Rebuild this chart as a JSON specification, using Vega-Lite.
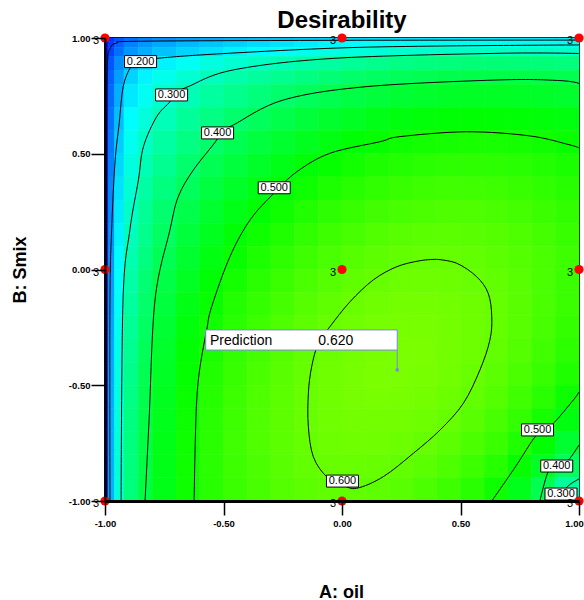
{
"$schema": "https://vega.github.io/schema/vega-lite/v6.json",
"width": 474, "height": 463,
"autosize": {"type": "none"},
"padding": {"left": 105, "top": 38, "right": 5, "bottom": 99},
"background": "white",
"title": {"text": "Desirability", "font": "Liberation Sans", "fontSize": 24, "fontWeight": "bold", "color": "black", "anchor": "middle", "frame": "group", "baseline": "alphabetic", "offset": 4, "dy": 23},
"config": {"view": {"stroke": "black", "strokeWidth": 2}, "font": "Liberation Sans"},
"datasets": {
"cols": [{"c":1,"x0":-1,"x1":-0.985},{"c":2,"x0":-0.985,"x1":-0.96},{"c":3,"x0":-0.96,"x1":-0.92},{"c":4,"x0":-0.92,"x1":-0.86},{"c":5,"x0":-0.86,"x1":-0.8},{"c":6,"x0":-0.8,"x1":-0.7},{"c":7,"x0":-0.7,"x1":-0.6},{"c":8,"x0":-0.6,"x1":-0.5},{"c":9,"x0":-0.5,"x1":-0.4},{"c":10,"x0":-0.4,"x1":-0.3},{"c":11,"x0":-0.3,"x1":-0.2},{"c":12,"x0":-0.2,"x1":-0.1},{"c":13,"x0":-0.1,"x1":0},{"c":14,"x0":0,"x1":0.1},{"c":15,"x0":0.1,"x1":0.2},{"c":16,"x0":0.2,"x1":0.3},{"c":17,"x0":0.3,"x1":0.4},{"c":18,"x0":0.4,"x1":0.5},{"c":19,"x0":0.5,"x1":0.6},{"c":20,"x0":0.6,"x1":0.7},{"c":21,"x0":0.7,"x1":0.8},{"c":22,"x0":0.8,"x1":0.9},{"c":23,"x0":0.9,"x1":1}],
"rows": [{"r":1,"y0":0.985,"y1":1},{"r":2,"y0":0.96,"y1":0.985},{"r":3,"y0":0.92,"y1":0.96},{"r":4,"y0":0.86,"y1":0.92},{"r":5,"y0":0.8,"y1":0.86},{"r":6,"y0":0.7,"y1":0.8},{"r":7,"y0":0.6,"y1":0.7},{"r":8,"y0":0.5,"y1":0.6},{"r":9,"y0":0.4,"y1":0.5},{"r":10,"y0":0.3,"y1":0.4},{"r":11,"y0":0.2,"y1":0.3},{"r":12,"y0":0.1,"y1":0.2},{"r":13,"y0":0,"y1":0.1},{"r":14,"y0":-0.1,"y1":0},{"r":15,"y0":-0.2,"y1":-0.1},{"r":16,"y0":-0.3,"y1":-0.2},{"r":17,"y0":-0.4,"y1":-0.3},{"r":18,"y0":-0.5,"y1":-0.4},{"r":19,"y0":-0.6,"y1":-0.5},{"r":20,"y0":-0.7,"y1":-0.6},{"r":21,"y0":-0.8,"y1":-0.7},{"r":22,"y0":-0.9,"y1":-0.8},{"r":23,"y0":-1,"y1":-0.9}],
"cells": [
{"c":1,"r":1,"d":0.017},{"c":2,"r":1,"d":0.048},{"c":3,"r":1,"d":0.081},{"c":4,"r":1,"d":0.108},{"c":5,"r":1,"d":0.125},{"c":6,"r":1,"d":0.14},{"c":7,"r":1,"d":0.153},{"c":8,"r":1,"d":0.164},{"c":9,"r":1,"d":0.174},{"c":10,"r":1,"d":0.182},{"c":11,"r":1,"d":0.189},{"c":12,"r":1,"d":0.197},{"c":13,"r":1,"d":0.204},{"c":14,"r":1,"d":0.209},{"c":15,"r":1,"d":0.215},{"c":16,"r":1,"d":0.219},{"c":17,"r":1,"d":0.222},{"c":18,"r":1,"d":0.226},{"c":19,"r":1,"d":0.227},{"c":20,"r":1,"d":0.228},{"c":21,"r":1,"d":0.228},{"c":22,"r":1,"d":0.228},{"c":23,"r":1,"d":0.226},
{"c":1,"r":2,"d":0.02},{"c":2,"r":2,"d":0.057},{"c":3,"r":2,"d":0.096},{"c":4,"r":2,"d":0.127},{"c":5,"r":2,"d":0.148},{"c":6,"r":2,"d":0.165},{"c":7,"r":2,"d":0.181},{"c":8,"r":2,"d":0.194},{"c":9,"r":2,"d":0.205},{"c":10,"r":2,"d":0.215},{"c":11,"r":2,"d":0.224},{"c":12,"r":2,"d":0.233},{"c":13,"r":2,"d":0.241},{"c":14,"r":2,"d":0.247},{"c":15,"r":2,"d":0.254},{"c":16,"r":2,"d":0.259},{"c":17,"r":2,"d":0.263},{"c":18,"r":2,"d":0.267},{"c":19,"r":2,"d":0.268},{"c":20,"r":2,"d":0.269},{"c":21,"r":2,"d":0.269},{"c":22,"r":2,"d":0.269},{"c":23,"r":2,"d":0.267},
{"c":1,"r":3,"d":0.022},{"c":2,"r":3,"d":0.066},{"c":3,"r":3,"d":0.111},{"c":4,"r":3,"d":0.147},{"c":5,"r":3,"d":0.17},{"c":6,"r":3,"d":0.19},{"c":7,"r":3,"d":0.209},{"c":8,"r":3,"d":0.223},{"c":9,"r":3,"d":0.236},{"c":10,"r":3,"d":0.247},{"c":11,"r":3,"d":0.257},{"c":12,"r":3,"d":0.267},{"c":13,"r":3,"d":0.276},{"c":14,"r":3,"d":0.284},{"c":15,"r":3,"d":0.29},{"c":16,"r":3,"d":0.296},{"c":17,"r":3,"d":0.301},{"c":18,"r":3,"d":0.305},{"c":19,"r":3,"d":0.308},{"c":20,"r":3,"d":0.309},{"c":21,"r":3,"d":0.309},{"c":22,"r":3,"d":0.308},{"c":23,"r":3,"d":0.305},
{"c":1,"r":4,"d":0.028},{"c":2,"r":4,"d":0.083},{"c":3,"r":4,"d":0.139},{"c":4,"r":4,"d":0.184},{"c":5,"r":4,"d":0.213},{"c":6,"r":4,"d":0.238},{"c":7,"r":4,"d":0.261},{"c":8,"r":4,"d":0.279},{"c":9,"r":4,"d":0.295},{"c":10,"r":4,"d":0.309},{"c":11,"r":4,"d":0.322},{"c":12,"r":4,"d":0.334},{"c":13,"r":4,"d":0.344},{"c":14,"r":4,"d":0.354},{"c":15,"r":4,"d":0.362},{"c":16,"r":4,"d":0.37},{"c":17,"r":4,"d":0.376},{"c":18,"r":4,"d":0.38},{"c":19,"r":4,"d":0.383},{"c":20,"r":4,"d":0.384},{"c":21,"r":4,"d":0.384},{"c":22,"r":4,"d":0.382},{"c":23,"r":4,"d":0.378},
{"c":1,"r":5,"d":0.031},{"c":2,"r":5,"d":0.094},{"c":3,"r":5,"d":0.156},{"c":4,"r":5,"d":0.207},{"c":5,"r":5,"d":0.24},{"c":6,"r":5,"d":0.268},{"c":7,"r":5,"d":0.294},{"c":8,"r":5,"d":0.314},{"c":9,"r":5,"d":0.331},{"c":10,"r":5,"d":0.347},{"c":11,"r":5,"d":0.361},{"c":12,"r":5,"d":0.375},{"c":13,"r":5,"d":0.386},{"c":14,"r":5,"d":0.397},{"c":15,"r":5,"d":0.406},{"c":16,"r":5,"d":0.414},{"c":17,"r":5,"d":0.42},{"c":18,"r":5,"d":0.425},{"c":19,"r":5,"d":0.427},{"c":20,"r":5,"d":0.429},{"c":21,"r":5,"d":0.428},{"c":22,"r":5,"d":0.426},{"c":23,"r":5,"d":0.421},
{"c":1,"r":6,"d":0.034},{"c":2,"r":6,"d":0.103},{"c":3,"r":6,"d":0.172},{"c":4,"r":6,"d":0.228},{"c":5,"r":6,"d":0.263},{"c":6,"r":6,"d":0.294},{"c":7,"r":6,"d":0.322},{"c":8,"r":6,"d":0.344},{"c":9,"r":6,"d":0.363},{"c":10,"r":6,"d":0.38},{"c":11,"r":6,"d":0.395},{"c":12,"r":6,"d":0.41},{"c":13,"r":6,"d":0.422},{"c":14,"r":6,"d":0.433},{"c":15,"r":6,"d":0.443},{"c":16,"r":6,"d":0.451},{"c":17,"r":6,"d":0.457},{"c":18,"r":6,"d":0.462},{"c":19,"r":6,"d":0.465},{"c":20,"r":6,"d":0.465},{"c":21,"r":6,"d":0.464},{"c":22,"r":6,"d":0.461},{"c":23,"r":6,"d":0.456},
{"c":1,"r":7,"d":0.037},{"c":2,"r":7,"d":0.112},{"c":3,"r":7,"d":0.187},{"c":4,"r":7,"d":0.248},{"c":5,"r":7,"d":0.286},{"c":6,"r":7,"d":0.32},{"c":7,"r":7,"d":0.35},{"c":8,"r":7,"d":0.373},{"c":9,"r":7,"d":0.394},{"c":10,"r":7,"d":0.412},{"c":11,"r":7,"d":0.427},{"c":12,"r":7,"d":0.443},{"c":13,"r":7,"d":0.456},{"c":14,"r":7,"d":0.467},{"c":15,"r":7,"d":0.477},{"c":16,"r":7,"d":0.485},{"c":17,"r":7,"d":0.492},{"c":18,"r":7,"d":0.496},{"c":19,"r":7,"d":0.498},{"c":20,"r":7,"d":0.498},{"c":21,"r":7,"d":0.496},{"c":22,"r":7,"d":0.492},{"c":23,"r":7,"d":0.486},
{"c":1,"r":8,"d":0.04},{"c":2,"r":8,"d":0.12},{"c":3,"r":8,"d":0.2},{"c":4,"r":8,"d":0.264},{"c":5,"r":8,"d":0.305},{"c":6,"r":8,"d":0.341},{"c":7,"r":8,"d":0.372},{"c":8,"r":8,"d":0.397},{"c":9,"r":8,"d":0.419},{"c":10,"r":8,"d":0.438},{"c":11,"r":8,"d":0.454},{"c":12,"r":8,"d":0.47},{"c":13,"r":8,"d":0.483},{"c":14,"r":8,"d":0.495},{"c":15,"r":8,"d":0.505},{"c":16,"r":8,"d":0.513},{"c":17,"r":8,"d":0.519},{"c":18,"r":8,"d":0.522},{"c":19,"r":8,"d":0.524},{"c":20,"r":8,"d":0.523},{"c":21,"r":8,"d":0.52},{"c":22,"r":8,"d":0.515},{"c":23,"r":8,"d":0.508},
{"c":1,"r":9,"d":0.042},{"c":2,"r":9,"d":0.126},{"c":3,"r":9,"d":0.211},{"c":4,"r":9,"d":0.279},{"c":5,"r":9,"d":0.322},{"c":6,"r":9,"d":0.359},{"c":7,"r":9,"d":0.393},{"c":8,"r":9,"d":0.419},{"c":9,"r":9,"d":0.441},{"c":10,"r":9,"d":0.46},{"c":11,"r":9,"d":0.477},{"c":12,"r":9,"d":0.493},{"c":13,"r":9,"d":0.506},{"c":14,"r":9,"d":0.518},{"c":15,"r":9,"d":0.528},{"c":16,"r":9,"d":0.535},{"c":17,"r":9,"d":0.541},{"c":18,"r":9,"d":0.544},{"c":19,"r":9,"d":0.545},{"c":20,"r":9,"d":0.543},{"c":21,"r":9,"d":0.539},{"c":22,"r":9,"d":0.533},{"c":23,"r":9,"d":0.525},
{"c":1,"r":10,"d":0.044},{"c":2,"r":10,"d":0.133},{"c":3,"r":10,"d":0.221},{"c":4,"r":10,"d":0.292},{"c":5,"r":10,"d":0.338},{"c":6,"r":10,"d":0.376},{"c":7,"r":10,"d":0.411},{"c":8,"r":10,"d":0.437},{"c":9,"r":10,"d":0.46},{"c":10,"r":10,"d":0.48},{"c":11,"r":10,"d":0.497},{"c":12,"r":10,"d":0.513},{"c":13,"r":10,"d":0.527},{"c":14,"r":10,"d":0.538},{"c":15,"r":10,"d":0.547},{"c":16,"r":10,"d":0.555},{"c":17,"r":10,"d":0.56},{"c":18,"r":10,"d":0.562},{"c":19,"r":10,"d":0.562},{"c":20,"r":10,"d":0.56},{"c":21,"r":10,"d":0.555},{"c":22,"r":10,"d":0.547},{"c":23,"r":10,"d":0.538},
{"c":1,"r":11,"d":0.046},{"c":2,"r":11,"d":0.138},{"c":3,"r":11,"d":0.23},{"c":4,"r":11,"d":0.305},{"c":5,"r":11,"d":0.352},{"c":6,"r":11,"d":0.392},{"c":7,"r":11,"d":0.427},{"c":8,"r":11,"d":0.454},{"c":9,"r":11,"d":0.478},{"c":10,"r":11,"d":0.498},{"c":11,"r":11,"d":0.515},{"c":12,"r":11,"d":0.531},{"c":13,"r":11,"d":0.544},{"c":14,"r":11,"d":0.555},{"c":15,"r":11,"d":0.564},{"c":16,"r":11,"d":0.571},{"c":17,"r":11,"d":0.575},{"c":18,"r":11,"d":0.577},{"c":19,"r":11,"d":0.576},{"c":20,"r":11,"d":0.573},{"c":21,"r":11,"d":0.567},{"c":22,"r":11,"d":0.558},{"c":23,"r":11,"d":0.548},
{"c":1,"r":12,"d":0.048},{"c":2,"r":12,"d":0.143},{"c":3,"r":12,"d":0.239},{"c":4,"r":12,"d":0.316},{"c":5,"r":12,"d":0.364},{"c":6,"r":12,"d":0.406},{"c":7,"r":12,"d":0.442},{"c":8,"r":12,"d":0.47},{"c":9,"r":12,"d":0.493},{"c":10,"r":12,"d":0.514},{"c":11,"r":12,"d":0.531},{"c":12,"r":12,"d":0.547},{"c":13,"r":12,"d":0.56},{"c":14,"r":12,"d":0.571},{"c":15,"r":12,"d":0.579},{"c":16,"r":12,"d":0.585},{"c":17,"r":12,"d":0.588},{"c":18,"r":12,"d":0.589},{"c":19,"r":12,"d":0.587},{"c":20,"r":12,"d":0.583},{"c":21,"r":12,"d":0.576},{"c":22,"r":12,"d":0.567},{"c":23,"r":12,"d":0.555},
{"c":1,"r":13,"d":0.049},{"c":2,"r":13,"d":0.148},{"c":3,"r":13,"d":0.247},{"c":4,"r":13,"d":0.326},{"c":5,"r":13,"d":0.376},{"c":6,"r":13,"d":0.418},{"c":7,"r":13,"d":0.455},{"c":8,"r":13,"d":0.484},{"c":9,"r":13,"d":0.507},{"c":10,"r":13,"d":0.527},{"c":11,"r":13,"d":0.545},{"c":12,"r":13,"d":0.56},{"c":13,"r":13,"d":0.573},{"c":14,"r":13,"d":0.583},{"c":15,"r":13,"d":0.591},{"c":16,"r":13,"d":0.596},{"c":17,"r":13,"d":0.599},{"c":18,"r":13,"d":0.599},{"c":19,"r":13,"d":0.596},{"c":20,"r":13,"d":0.59},{"c":21,"r":13,"d":0.582},{"c":22,"r":13,"d":0.572},{"c":23,"r":13,"d":0.56},
{"c":1,"r":14,"d":0.051},{"c":2,"r":14,"d":0.153},{"c":3,"r":14,"d":0.254},{"c":4,"r":14,"d":0.336},{"c":5,"r":14,"d":0.387},{"c":6,"r":14,"d":0.43},{"c":7,"r":14,"d":0.467},{"c":8,"r":14,"d":0.496},{"c":9,"r":14,"d":0.52},{"c":10,"r":14,"d":0.54},{"c":11,"r":14,"d":0.556},{"c":12,"r":14,"d":0.572},{"c":13,"r":14,"d":0.584},{"c":14,"r":14,"d":0.593},{"c":15,"r":14,"d":0.6},{"c":16,"r":14,"d":0.605},{"c":17,"r":14,"d":0.607},{"c":18,"r":14,"d":0.606},{"c":19,"r":14,"d":0.602},{"c":20,"r":14,"d":0.595},{"c":21,"r":14,"d":0.586},{"c":22,"r":14,"d":0.572},{"c":23,"r":14,"d":0.557},
{"c":1,"r":15,"d":0.052},{"c":2,"r":15,"d":0.157},{"c":3,"r":15,"d":0.261},{"c":4,"r":15,"d":0.345},{"c":5,"r":15,"d":0.397},{"c":6,"r":15,"d":0.441},{"c":7,"r":15,"d":0.479},{"c":8,"r":15,"d":0.508},{"c":9,"r":15,"d":0.532},{"c":10,"r":15,"d":0.551},{"c":11,"r":15,"d":0.568},{"c":12,"r":15,"d":0.583},{"c":13,"r":15,"d":0.594},{"c":14,"r":15,"d":0.603},{"c":15,"r":15,"d":0.609},{"c":16,"r":15,"d":0.613},{"c":17,"r":15,"d":0.614},{"c":18,"r":15,"d":0.612},{"c":19,"r":15,"d":0.607},{"c":20,"r":15,"d":0.6},{"c":21,"r":15,"d":0.587},{"c":22,"r":15,"d":0.573},{"c":23,"r":15,"d":0.556},
{"c":1,"r":16,"d":0.054},{"c":2,"r":16,"d":0.161},{"c":3,"r":16,"d":0.267},{"c":4,"r":16,"d":0.353},{"c":5,"r":16,"d":0.406},{"c":6,"r":16,"d":0.45},{"c":7,"r":16,"d":0.489},{"c":8,"r":16,"d":0.517},{"c":9,"r":16,"d":0.541},{"c":10,"r":16,"d":0.56},{"c":11,"r":16,"d":0.576},{"c":12,"r":16,"d":0.591},{"c":13,"r":16,"d":0.601},{"c":14,"r":16,"d":0.609},{"c":15,"r":16,"d":0.615},{"c":16,"r":16,"d":0.617},{"c":17,"r":16,"d":0.617},{"c":18,"r":16,"d":0.614},{"c":19,"r":16,"d":0.607},{"c":20,"r":16,"d":0.598},{"c":21,"r":16,"d":0.585},{"c":22,"r":16,"d":0.57},{"c":23,"r":16,"d":0.55},
{"c":1,"r":17,"d":0.055},{"c":2,"r":17,"d":0.164},{"c":3,"r":17,"d":0.273},{"c":4,"r":17,"d":0.359},{"c":5,"r":17,"d":0.413},{"c":6,"r":17,"d":0.458},{"c":7,"r":17,"d":0.497},{"c":8,"r":17,"d":0.525},{"c":9,"r":17,"d":0.549},{"c":10,"r":17,"d":0.567},{"c":11,"r":17,"d":0.583},{"c":12,"r":17,"d":0.597},{"c":13,"r":17,"d":0.606},{"c":14,"r":17,"d":0.613},{"c":15,"r":17,"d":0.618},{"c":16,"r":17,"d":0.62},{"c":17,"r":17,"d":0.619},{"c":18,"r":17,"d":0.613},{"c":19,"r":17,"d":0.606},{"c":20,"r":17,"d":0.595},{"c":21,"r":17,"d":0.581},{"c":22,"r":17,"d":0.563},{"c":23,"r":17,"d":0.542},
{"c":1,"r":18,"d":0.056},{"c":2,"r":18,"d":0.167},{"c":3,"r":18,"d":0.277},{"c":4,"r":18,"d":0.365},{"c":5,"r":18,"d":0.42},{"c":6,"r":18,"d":0.465},{"c":7,"r":18,"d":0.503},{"c":8,"r":18,"d":0.532},{"c":9,"r":18,"d":0.554},{"c":10,"r":18,"d":0.573},{"c":11,"r":18,"d":0.587},{"c":12,"r":18,"d":0.6},{"c":13,"r":18,"d":0.609},{"c":14,"r":18,"d":0.616},{"c":15,"r":18,"d":0.619},{"c":16,"r":18,"d":0.62},{"c":17,"r":18,"d":0.617},{"c":18,"r":18,"d":0.612},{"c":19,"r":18,"d":0.602},{"c":20,"r":18,"d":0.59},{"c":21,"r":18,"d":0.574},{"c":22,"r":18,"d":0.554},{"c":23,"r":18,"d":0.529},
{"c":1,"r":19,"d":0.056},{"c":2,"r":19,"d":0.169},{"c":3,"r":19,"d":0.281},{"c":4,"r":19,"d":0.37},{"c":5,"r":19,"d":0.425},{"c":6,"r":19,"d":0.47},{"c":7,"r":19,"d":0.509},{"c":8,"r":19,"d":0.537},{"c":9,"r":19,"d":0.559},{"c":10,"r":19,"d":0.576},{"c":11,"r":19,"d":0.59},{"c":12,"r":19,"d":0.602},{"c":13,"r":19,"d":0.61},{"c":14,"r":19,"d":0.616},{"c":15,"r":19,"d":0.618},{"c":16,"r":19,"d":0.617},{"c":17,"r":19,"d":0.613},{"c":18,"r":19,"d":0.606},{"c":19,"r":19,"d":0.596},{"c":20,"r":19,"d":0.582},{"c":21,"r":19,"d":0.563},{"c":22,"r":19,"d":0.54},{"c":23,"r":19,"d":0.511},
{"c":1,"r":20,"d":0.057},{"c":2,"r":20,"d":0.171},{"c":3,"r":20,"d":0.284},{"c":4,"r":20,"d":0.374},{"c":5,"r":20,"d":0.429},{"c":6,"r":20,"d":0.474},{"c":7,"r":20,"d":0.512},{"c":8,"r":20,"d":0.54},{"c":9,"r":20,"d":0.561},{"c":10,"r":20,"d":0.578},{"c":11,"r":20,"d":0.591},{"c":12,"r":20,"d":0.602},{"c":13,"r":20,"d":0.609},{"c":14,"r":20,"d":0.614},{"c":15,"r":20,"d":0.614},{"c":16,"r":20,"d":0.612},{"c":17,"r":20,"d":0.607},{"c":18,"r":20,"d":0.599},{"c":19,"r":20,"d":0.587},{"c":20,"r":20,"d":0.57},{"c":21,"r":20,"d":0.549},{"c":22,"r":20,"d":0.522},{"c":23,"r":20,"d":0.486},
{"c":1,"r":21,"d":0.058},{"c":2,"r":21,"d":0.172},{"c":3,"r":21,"d":0.286},{"c":4,"r":21,"d":0.377},{"c":5,"r":21,"d":0.432},{"c":6,"r":21,"d":0.477},{"c":7,"r":21,"d":0.514},{"c":8,"r":21,"d":0.541},{"c":9,"r":21,"d":0.562},{"c":10,"r":21,"d":0.578},{"c":11,"r":21,"d":0.59},{"c":12,"r":21,"d":0.6},{"c":13,"r":21,"d":0.606},{"c":14,"r":21,"d":0.609},{"c":15,"r":21,"d":0.609},{"c":16,"r":21,"d":0.605},{"c":17,"r":21,"d":0.599},{"c":18,"r":21,"d":0.589},{"c":19,"r":21,"d":0.575},{"c":20,"r":21,"d":0.556},{"c":21,"r":21,"d":0.531},{"c":22,"r":21,"d":0.497},{"c":23,"r":21,"d":0.453},
{"c":1,"r":22,"d":0.058},{"c":2,"r":22,"d":0.173},{"c":3,"r":22,"d":0.288},{"c":4,"r":22,"d":0.378},{"c":5,"r":22,"d":0.433},{"c":6,"r":22,"d":0.478},{"c":7,"r":22,"d":0.515},{"c":8,"r":22,"d":0.541},{"c":9,"r":22,"d":0.56},{"c":10,"r":22,"d":0.575},{"c":11,"r":22,"d":0.586},{"c":12,"r":22,"d":0.596},{"c":13,"r":22,"d":0.601},{"c":14,"r":22,"d":0.602},{"c":15,"r":22,"d":0.601},{"c":16,"r":22,"d":0.596},{"c":17,"r":22,"d":0.588},{"c":18,"r":22,"d":0.576},{"c":19,"r":22,"d":0.559},{"c":20,"r":22,"d":0.537},{"c":21,"r":22,"d":0.506},{"c":22,"r":22,"d":0.465},{"c":23,"r":22,"d":0.408},
{"c":1,"r":23,"d":0.058},{"c":2,"r":23,"d":0.174},{"c":3,"r":23,"d":0.288},{"c":4,"r":23,"d":0.379},{"c":5,"r":23,"d":0.434},{"c":6,"r":23,"d":0.478},{"c":7,"r":23,"d":0.514},{"c":8,"r":23,"d":0.539},{"c":9,"r":23,"d":0.557},{"c":10,"r":23,"d":0.571},{"c":11,"r":23,"d":0.582},{"c":12,"r":23,"d":0.59},{"c":13,"r":23,"d":0.593},{"c":14,"r":23,"d":0.593},{"c":15,"r":23,"d":0.591},{"c":16,"r":23,"d":0.585},{"c":17,"r":23,"d":0.575},{"c":18,"r":23,"d":0.561},{"c":19,"r":23,"d":0.541},{"c":20,"r":23,"d":0.513},{"c":21,"r":23,"d":0.475},{"c":22,"r":23,"d":0.422},{"c":23,"r":23,"d":0.347}
],
"contours": [
{"s":"a","o":1,"x":-0.993,"y":-1},{"s":"a","o":2,"x":-0.993,"y":0.5},{"s":"a","o":3,"x":-0.99,"y":0.88},{"s":"a","o":4,"x":-0.978,"y":0.955},{"s":"a","o":5,"x":-0.95,"y":0.978},{"s":"a","o":6,"x":-0.85,"y":0.986},{"s":"a","o":7,"x":0,"y":0.99},{"s":"a","o":8,"x":1,"y":0.991},
{"s":"b","o":1,"x":-0.979,"y":-1},{"s":"b","o":2,"x":-0.979,"y":-0.132},{"s":"b","o":3,"x":-0.972,"y":0.171},{"s":"b","o":4,"x":-0.958,"y":0.46},{"s":"b","o":5,"x":-0.94,"y":0.633},{"s":"b","o":6,"x":-0.923,"y":0.79},{"s":"b","o":7,"x":-0.89,"y":0.876},{"s":"b","o":8,"x":-0.85,"y":0.898},{"s":"b","o":9,"x":-0.782,"y":0.912},{"s":"b","o":10,"x":-0.529,"y":0.931},{"s":"b","o":11,"x":-0.038,"y":0.956},{"s":"b","o":12,"x":0.384,"y":0.965},{"s":"b","o":13,"x":1,"y":0.97},
{"s":"c","o":1,"x":-0.932,"y":-1},{"s":"c","o":2,"x":-0.924,"y":-0.132},{"s":"c","o":3,"x":-0.895,"y":0.171},{"s":"c","o":4,"x":-0.859,"y":0.387},{"s":"c","o":5,"x":-0.838,"y":0.53},{"s":"c","o":6,"x":-0.782,"y":0.66},{"s":"c","o":7,"x":-0.726,"y":0.725},{"s":"c","o":8,"x":-0.719,"y":0.754},{"s":"c","o":9,"x":-0.649,"y":0.79},{"s":"c","o":10,"x":-0.459,"y":0.862},{"s":"c","o":11,"x":-0.037,"y":0.912},{"s":"c","o":12,"x":0.667,"y":0.934},{"s":"c","o":13,"x":1,"y":0.933},
{"s":"d","o":1,"x":-0.831,"y":-1},{"s":"d","o":2,"x":-0.814,"y":-0.65},{"s":"d","o":3,"x":-0.789,"y":-0.132},{"s":"d","o":4,"x":-0.726,"y":0.171},{"s":"d","o":5,"x":-0.691,"y":0.314},{"s":"d","o":6,"x":-0.627,"y":0.43},{"s":"d","o":7,"x":-0.529,"y":0.559},{"s":"d","o":8,"x":-0.525,"y":0.59},{"s":"d","o":9,"x":-0.459,"y":0.624},{"s":"d","o":10,"x":-0.248,"y":0.732},{"s":"d","o":11,"x":0.104,"y":0.79},{"s":"d","o":12,"x":0.667,"y":0.819},{"s":"d","o":13,"x":0.92,"y":0.816},{"s":"d","o":14,"x":1,"y":0.804},
{"s":"e","o":1,"x":-0.624,"y":-1},{"s":"e","o":2,"x":-0.62,"y":-0.78},{"s":"e","o":3,"x":-0.613,"y":-0.564},{"s":"e","o":4,"x":-0.599,"y":-0.42},{"s":"e","o":5,"x":-0.571,"y":-0.261},{"s":"e","o":6,"x":-0.55,"y":-0.161},{"s":"e","o":7,"x":-0.473,"y":0.055},{"s":"e","o":8,"x":-0.388,"y":0.214},{"s":"e","o":9,"x":-0.287,"y":0.33},{"s":"e","o":10,"x":-0.191,"y":0.422},{"s":"e","o":11,"x":-0.051,"y":0.502},{"s":"e","o":12,"x":0.16,"y":0.552},{"s":"e","o":13,"x":0.245,"y":0.574},{"s":"e","o":14,"x":0.526,"y":0.595},{"s":"e","o":15,"x":0.793,"y":0.577},{"s":"e","o":16,"x":0.962,"y":0.538},{"s":"e","o":17,"x":1,"y":0.525},
{"s":"f","o":1,"x":0.399,"y":0.044},{"s":"f","o":2,"x":0.484,"y":0.027},{"s":"f","o":3,"x":0.568,"y":-0.031},{"s":"f","o":4,"x":0.617,"y":-0.103},{"s":"f","o":5,"x":0.632,"y":-0.204},{"s":"f","o":6,"x":0.624,"y":-0.305},{"s":"f","o":7,"x":0.582,"y":-0.434},{"s":"f","o":8,"x":0.512,"y":-0.578},{"s":"f","o":9,"x":0.414,"y":-0.693},{"s":"f","o":10,"x":0.301,"y":-0.794},{"s":"f","o":11,"x":0.174,"y":-0.895},{"s":"f","o":12,"x":0.062,"y":-0.945},{"s":"f","o":13,"x":0.002,"y":-0.93},{"s":"f","o":14,"x":-0.065,"y":-0.895},{"s":"f","o":15,"x":-0.121,"y":-0.809},{"s":"f","o":16,"x":-0.142,"y":-0.679},{"s":"f","o":17,"x":-0.142,"y":-0.535},{"s":"f","o":18,"x":-0.128,"y":-0.42},{"s":"f","o":19,"x":-0.1,"y":-0.319},{"s":"f","o":20,"x":-0.051,"y":-0.247},{"s":"f","o":21,"x":0.034,"y":-0.139},{"s":"f","o":22,"x":0.132,"y":-0.045},{"s":"f","o":23,"x":0.231,"y":0.012},{"s":"f","o":24,"x":0.329,"y":0.038},{"s":"f","o":25,"x":0.399,"y":0.044},
{"s":"g","o":1,"x":0.632,"y":-1},{"s":"g","o":2,"x":0.73,"y":-0.855},{"s":"g","o":3,"x":0.821,"y":-0.715},{"s":"g","o":4,"x":0.885,"y":-0.672},{"s":"g","o":5,"x":0.976,"y":-0.564},{"s":"g","o":6,"x":1,"y":-0.529},
{"s":"h","o":1,"x":0.835,"y":-1},{"s":"h","o":2,"x":0.87,"y":-0.873},{"s":"h","o":3,"x":0.906,"y":-0.849},{"s":"h","o":4,"x":0.955,"y":-0.823},{"s":"h","o":5,"x":1,"y":-0.758},
{"s":"i","o":1,"x":0.915,"y":-1},{"s":"i","o":2,"x":0.924,"y":-0.97},{"s":"i","o":3,"x":0.96,"y":-0.93},{"s":"i","o":4,"x":1,"y":-0.905}
],
"clabels": [{"x":-0.85,"y":0.898,"t":"0.200"},{"x":-0.719,"y":0.754,"t":"0.300"},{"x":-0.525,"y":0.59,"t":"0.400"},{"x":-0.286,"y":0.353,"t":"0.500"},{"x":0.002,"y":-0.914,"t":"0.600"},{"x":0.825,"y":-0.693,"t":"0.500"},{"x":0.906,"y":-0.849,"t":"0.400"},{"x":0.924,"y":-0.97,"t":"0.300"}],
"predbox": [{"x0":-0.575,"x1":0.233,"y0":-0.348,"y1":-0.261}],
"predpt": [{"x":0.233,"y":-0.434,"ytop":-0.348}],
"predtext": [{"x":-0.557,"y":-0.31,"t":"Prediction"},{"x":-0.1,"y":-0.31,"t":"0.620"}],
"pts": [{"x":-1,"y":1,"n":"3"},{"x":0,"y":1,"n":"3"},{"x":1,"y":1,"n":"3"},{"x":-1,"y":0,"n":"3"},{"x":0,"y":0,"n":"3"},{"x":1,"y":0,"n":"3"},{"x":-1,"y":-1,"n":"3"},{"x":0,"y":-1,"n":"3"},{"x":1,"y":-1,"n":"3"}]
},
"layer": [
{
"data": {"name": "cells"},
"transform": [
{"lookup": "c", "from": {"data": {"name": "cols"}, "key": "c", "fields": ["x0", "x1"]}},
{"lookup": "r", "from": {"data": {"name": "rows"}, "key": "r", "fields": ["y0", "y1"]}}
],
"mark": {"type": "rect", "strokeWidth": 0.6},
"encoding": {
"x": {"field": "x0", "type": "quantitative", "scale": {"domain": [-1, 1], "nice": false, "zero": false},
 "axis": {"title": "A: oil", "values": [-1, -0.5, 0, 0.5, 1], "labelExpr": "replace(format(datum.value, '.2f'), '\u2212', '-')", "grid": false, "zindex": 1,
  "labelFont": "Liberation Sans", "labelFontSize": 9.5, "labelFontWeight": "bold", "labelColor": "black", "labelPadding": 3, "labelFlush": false, "labelOverlap": false,
  "labelOffset": {"condition": {"test": "datum.value == 1", "value": -5}, "value": 0},
  "tickColor": "black", "tickSize": 14, "tickWidth": 1.5, "domainColor": "black", "domainWidth": 3,
  "titleFont": "Liberation Sans", "titleFontSize": 18, "titleFontWeight": "bold", "titleColor": "black", "titleX": 236, "titleY": 96, "titleBaseline": "alphabetic", "titleAlign": "center"}},
"x2": {"field": "x1"},
"y": {"field": "y0", "type": "quantitative", "scale": {"domain": [-1, 1], "nice": false, "zero": false},
 "axis": {"title": "B: Smix", "values": [-1, -0.5, 0, 0.5, 1], "labelExpr": "replace(format(datum.value, '.2f'), '\u2212', '-')", "grid": false, "zindex": 1,
  "labelFont": "Liberation Sans", "labelFontSize": 9.5, "labelFontWeight": "bold", "labelColor": "black", "labelPadding": 1, "labelFlush": false, "labelOverlap": false,
  "tickColor": "black", "tickSize": 14, "tickWidth": 1.5, "domainColor": "black", "domainWidth": 2,
  "titleFont": "Liberation Sans", "titleFontSize": 18, "titleFontWeight": "bold", "titleColor": "black", "titleX": -80, "titleY": 231.5, "titleAngle": -90, "titleBaseline": "alphabetic", "titleAlign": "center"}},
"y2": {"field": "y1"},
"color": {"field": "d", "type": "quantitative", "scale": {"domain": [0, 0.25, 0.5, 0.75, 1], "range": ["#0000ff", "#00ffff", "#00ff00", "#ffff00", "#ff0000"], "interpolate": "rgb"}, "legend": null},
"stroke": {"field": "d", "type": "quantitative", "scale": {"domain": [0, 0.25, 0.5, 0.75, 1], "range": ["#0000ff", "#00ffff", "#00ff00", "#ffff00", "#ff0000"], "interpolate": "rgb"}, "legend": null}
}
},
{
"data": {"name": "contours"},
"mark": {"type": "line", "color": "black", "strokeWidth": 1, "interpolate": "cardinal"},
"encoding": {
"x": {"field": "x", "type": "quantitative"},
"y": {"field": "y", "type": "quantitative"},
"detail": {"field": "s"},
"order": {"field": "o", "type": "quantitative"}
}
},
{
"data": {"name": "clabels"},
"mark": {"type": "point", "shape": "M-2,-0.75H2V0.75H-2Z", "size": 256, "filled": true, "fill": "white", "stroke": "black", "strokeWidth": 1, "opacity": 1},
"encoding": {"x": {"field": "x", "type": "quantitative"}, "y": {"field": "y", "type": "quantitative"}}
},
{
"data": {"name": "clabels"},
"mark": {"type": "text", "font": "Liberation Sans", "fontSize": 11, "color": "black", "align": "center", "baseline": "middle"},
"encoding": {"x": {"field": "x", "type": "quantitative"}, "y": {"field": "y", "type": "quantitative"}, "text": {"field": "t"}}
},
{
"data": {"name": "predbox"},
"mark": {"type": "rect", "fill": "white", "stroke": "#8080ee", "strokeWidth": 1},
"encoding": {"x": {"field": "x0", "type": "quantitative"}, "x2": {"field": "x1"}, "y": {"field": "y0", "type": "quantitative"}, "y2": {"field": "y1"}}
},
{
"data": {"name": "predpt"},
"mark": {"type": "rule", "color": "#8080ee", "strokeWidth": 1},
"encoding": {"x": {"field": "x", "type": "quantitative"}, "y": {"field": "y", "type": "quantitative"}, "y2": {"field": "ytop"}}
},
{
"data": {"name": "predpt"},
"mark": {"type": "point", "shape": "square", "size": 10, "filled": true, "color": "#8080ee", "opacity": 1},
"encoding": {"x": {"field": "x", "type": "quantitative"}, "y": {"field": "y", "type": "quantitative"}}
},
{
"data": {"name": "predtext"},
"mark": {"type": "text", "font": "Liberation Sans", "fontSize": 14, "color": "black", "align": "left", "baseline": "middle"},
"encoding": {"x": {"field": "x", "type": "quantitative"}, "y": {"field": "y", "type": "quantitative"}, "text": {"field": "t"}}
},
{
"data": {"name": "pts"},
"mark": {"type": "circle", "size": 85, "color": "#ff0000", "opacity": 1},
"encoding": {"x": {"field": "x", "type": "quantitative"}, "y": {"field": "y", "type": "quantitative"}}
},
{
"data": {"name": "pts"},
"mark": {"type": "text", "font": "Liberation Sans", "fontSize": 11, "color": "black", "align": "center", "baseline": "middle", "dx": -9, "dy": 3},
"encoding": {"x": {"field": "x", "type": "quantitative"}, "y": {"field": "y", "type": "quantitative"}, "text": {"field": "n"}}
}
]
}
